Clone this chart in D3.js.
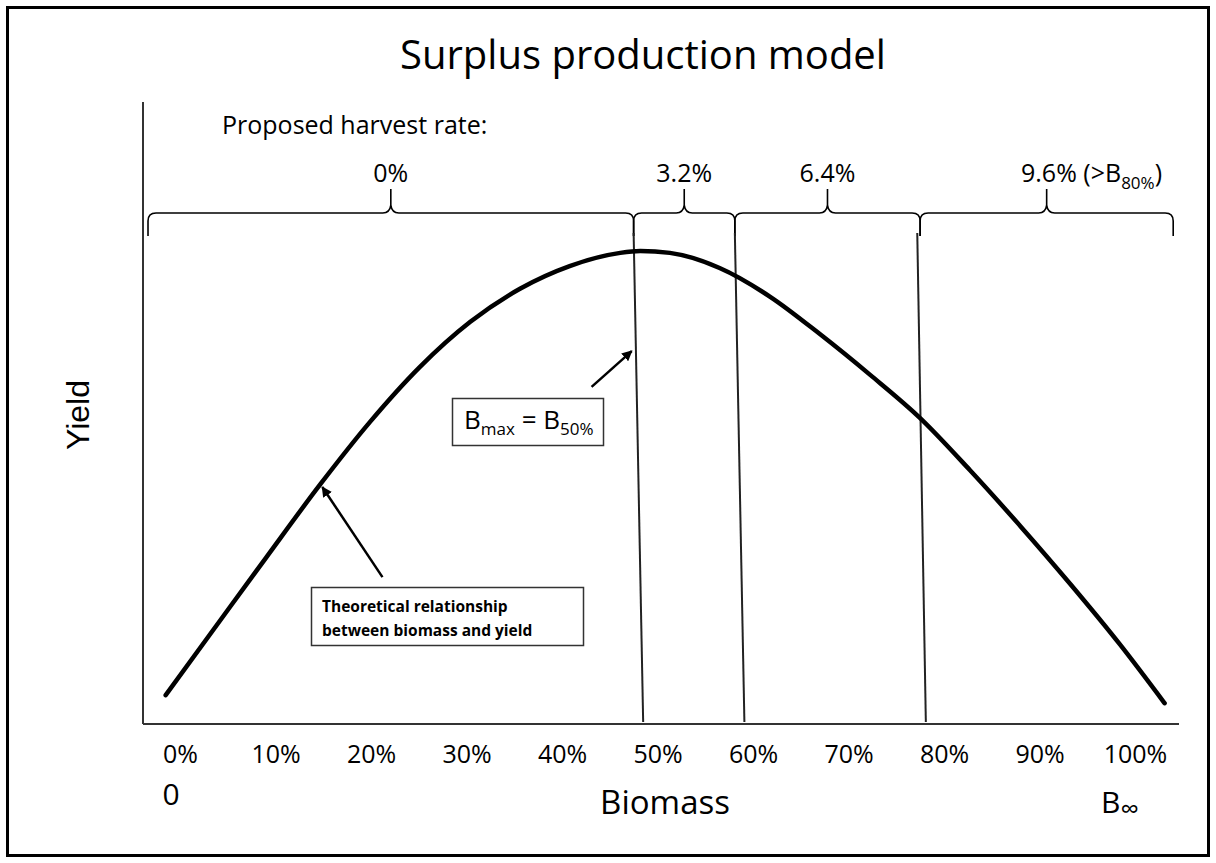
<!DOCTYPE html>
<html>
<head>
<meta charset="utf-8">
<script src="https://cdn.jsdelivr.net/npm/d3@7"></script>
<style>
  body { margin: 0; background: #fff; }
  svg { display: block; }
  text { fill: #000; }
</style>
</head>
<body>
<div id="viz"></div>
<script>
// x ticks along the biomass axis
var tickValues = [0, 10, 20, 30, 40, 50, 60, 70, 80, 90, 100];
var tickLabels = ["0%", "10%", "20%", "30%", "40%", "50%", "60%", "70%", "80%", "90%", "100%"];

// surplus production curve (biomass %, relative yield)
var curveBiomass = [-1.5, 3.8, 9.0, 14.7, 19.9, 25.1, 30.4, 35.6, 40.8, 46.1, 48.2, 51.3, 56.5, 61.8, 67.0, 72.3, 77.5, 82.7, 88.0, 93.2, 98.4, 103.1];
var curveYield   = [5.9, 20.6, 35.0, 50.6, 63.8, 75.4, 85.0, 92.0, 96.8, 99.6, 100, 99.6, 96.4, 90.3, 82.4, 73.7, 64.6, 53.6, 41.7, 29.5, 16.7, 4.2];

// harvest rate brackets (edges in biomass %)
var braceEdges = [-3.35, 47.5, 58.1, 77.5, 104.0];
var harvestRates = ["0%", "3.2%", "6.4%", "9.6%"];

// the dividing lines lean a little: top and bottom positions
var sepTop = [47.5, 58.1, 77.2];
var sepBottom = [48.5, 59.1, 78.1];

var W = 1216, H = 863;
var axisX = 143, axisY = 724;
var font = "'Open Sans', sans-serif";

var svg = d3.select("#viz").append("svg")
    .attr("width", W)
    .attr("height", H);

var defs = svg.append("defs");
defs.append("marker")
    .attr("id", "arrow")
    .attr("viewBox", "0 0 10 10")
    .attr("refX", 9)
    .attr("refY", 5)
    .attr("markerWidth", 4.2)
    .attr("markerHeight", 4.2)
    .attr("orient", "auto")
    .append("path")
    .attr("d", "M0,0 L10,5 L0,10 z")
    .attr("fill", "#000");

// outer frame
svg.append("rect")
    .attr("x", 7.5).attr("y", 7.5)
    .attr("width", 1201).attr("height", 848)
    .attr("fill", "none")
    .attr("stroke", "#000")
    .attr("stroke-width", 3);

var x = d3.scaleLinear().domain([0, 100]).range([180, 1135]);
var y = d3.scaleLinear().domain([0, 100]).range([723, 251]);

// axes (plain lines, no ticks)
svg.append("line")
    .attr("x1", axisX).attr("x2", axisX)
    .attr("y1", 102).attr("y2", axisY)
    .attr("stroke", "#333").attr("stroke-width", 2);
svg.append("line")
    .attr("x1", axisX).attr("x2", 1179)
    .attr("y1", axisY).attr("y2", axisY)
    .attr("stroke", "#333").attr("stroke-width", 2);

var xAxis = d3.axisBottom(x)
    .tickValues(tickValues)
    .tickFormat(function(d, i) { return tickLabels[i]; })
    .tickSize(0)
    .tickPadding(0);

var gx = svg.append("g")
    .attr("transform", "translate(0," + axisY + ")")
    .call(xAxis);
gx.select(".domain").remove();
gx.selectAll("text")
    .attr("dy", null)
    .attr("y", 39)
    .attr("fill", "#000")
    .style("font-family", font)
    .style("font-size", "25px");

// title
svg.append("text")
    .attr("x", 643).attr("y", 69)
    .attr("text-anchor", "middle")
    .style("font-family", font)
    .style("font-size", "40px")
    .text("Surplus production model");

svg.append("text")
    .attr("x", 222).attr("y", 134)
    .style("font-family", font)
    .style("font-size", "25px")
    .text("Proposed harvest rate:");

// brackets
var braceY = 213;
function bracePath(x1, x2, yy) {
    var xm = (x1 + x2) / 2, r = 8, drop = 23, rise = 24;
    return "M" + x1 + "," + (yy + drop) +
        " L" + x1 + "," + (yy + r) +
        " Q" + x1 + "," + yy + " " + (x1 + r) + "," + yy +
        " L" + (xm - r) + "," + yy +
        " Q" + (xm - 1) + "," + yy + " " + xm + "," + (yy - r) +
        " L" + xm + "," + (yy - rise) +
        " M" + xm + "," + (yy - r) +
        " Q" + (xm + 1) + "," + yy + " " + (xm + r) + "," + yy +
        " L" + (x2 - r) + "," + yy +
        " Q" + x2 + "," + yy + " " + x2 + "," + (yy + r) +
        " L" + x2 + "," + (yy + drop);
}

var braces = harvestRates.map(function(r, i) {
    return { rate: r, x1: x(braceEdges[i]), x2: x(braceEdges[i + 1]) };
});

svg.selectAll(".brace")
    .data(braces)
    .enter().append("path")
    .attr("class", "brace")
    .attr("d", function(d) { return bracePath(d.x1, d.x2, braceY); })
    .attr("fill", "none")
    .attr("stroke", "#000")
    .attr("stroke-width", 1.6);

var rateLabels = svg.selectAll(".rate")
    .data(braces)
    .enter().append("text")
    .attr("class", "rate")
    .attr("x", function(d) { return (d.x1 + d.x2) / 2; })
    .attr("y", 182)
    .attr("text-anchor", "middle")
    .style("font-family", font)
    .style("font-size", "25px")
    .text(function(d) { return d.rate; });

// last label gets the (>B80%) note
var last = rateLabels.filter(function(d, i) { return i === 3; })
    .attr("text-anchor", "start")
    .attr("x", 1021)
    .text(null);
last.append("tspan").text("9.6% (>B");
last.append("tspan").attr("dy", 7).style("font-size", "17px").text("80%");
last.append("tspan").attr("dy", -7).text(")");

// dividing lines
svg.selectAll(".sep")
    .data(sepTop)
    .enter().append("line")
    .attr("class", "sep")
    .attr("x1", function(d) { return x(d); })
    .attr("y1", braceY + 20)
    .attr("x2", function(d, i) { return x(sepBottom[i]); })
    .attr("y2", axisY - 2)
    .attr("stroke", "#222")
    .attr("stroke-width", 2);

// the curve
var curveData = curveBiomass.map(function(b, i) { return { b: b, v: curveYield[i] }; });
var line = d3.line()
    .x(function(d) { return x(d.b); })
    .y(function(d) { return y(d.v); })
    .curve(d3.curveMonotoneX);

svg.append("path")
    .datum(curveData)
    .attr("d", line)
    .attr("fill", "none")
    .attr("stroke", "#000")
    .attr("stroke-width", 4.5)
    .attr("stroke-linecap", "round");

// Bmax annotation
svg.append("line")
    .attr("x1", x(43.1)).attr("y1", y(71.2))
    .attr("x2", x(47.3)).attr("y2", y(78.8))
    .attr("stroke", "#000").attr("stroke-width", 2.5)
    .attr("marker-end", "url(#arrow)");

svg.append("rect")
    .attr("x", 452.5).attr("y", 398.5)
    .attr("width", 151).attr("height", 47)
    .attr("fill", "#fff")
    .attr("stroke", "#333").attr("stroke-width", 1.5);

var bm = svg.append("text")
    .attr("x", 464).attr("y", 429)
    .style("font-family", font)
    .style("font-size", "26px");
bm.append("tspan").text("B");
bm.append("tspan").attr("dy", 6).style("font-size", "17px").text("max");
bm.append("tspan").attr("dy", -6).text(" = B");
bm.append("tspan").attr("dy", 6).style("font-size", "17px").text("50%");

// curve annotation
svg.append("line")
    .attr("x1", x(21.2)).attr("y1", y(30.9))
    .attr("x2", x(14.9)).attr("y2", y(50.0))
    .attr("stroke", "#000").attr("stroke-width", 2.5)
    .attr("marker-end", "url(#arrow)");

svg.append("rect")
    .attr("x", 311.5).attr("y", 587.5)
    .attr("width", 272).attr("height", 58)
    .attr("fill", "#fff")
    .attr("stroke", "#333").attr("stroke-width", 1.5);

svg.append("text")
    .attr("x", 322).attr("y", 612)
    .style("font-family", font)
    .style("font-size", "15.5px")
    .style("font-weight", "bold")
    .text("Theoretical relationship");
svg.append("text")
    .attr("x", 322).attr("y", 636)
    .style("font-family", font)
    .style("font-size", "15.5px")
    .style("font-weight", "bold")
    .text("between biomass and yield");

// axis titles
svg.append("text")
    .attr("transform", "translate(89,415) rotate(-90)")
    .attr("text-anchor", "middle")
    .style("font-family", "'Liberation Sans', Arial, sans-serif")
    .style("font-size", "32px")
    .text("Yield");

svg.append("text")
    .attr("x", 665).attr("y", 814)
    .attr("text-anchor", "middle")
    .style("font-family", font)
    .style("font-size", "33px")
    .text("Biomass");

svg.append("text")
    .attr("x", 171).attr("y", 805)
    .attr("text-anchor", "middle")
    .style("font-family", font)
    .style("font-size", "30px")
    .text("0");

var binf = svg.append("text")
    .attr("x", 1101).attr("y", 813)
    .style("font-family", font)
    .style("font-size", "30px");
binf.append("tspan").text("B");
binf.append("tspan").attr("dy", 5).style("font-size", "26px").text("∞");
</script>
</body>
</html>
